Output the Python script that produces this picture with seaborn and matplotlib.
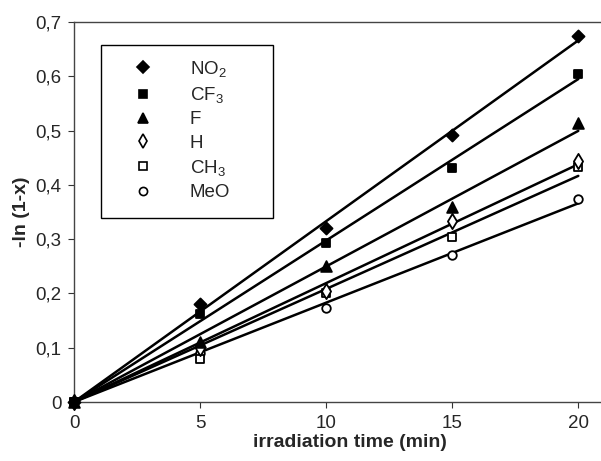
import numpy as np
import pandas as pd
import matplotlib
matplotlib.use("Agg")
import matplotlib.pyplot as plt
import seaborn as sns
from matplotlib.lines import Line2D
from matplotlib.patches import Rectangle

# ---- data ----
time_min = [0, 5, 10, 15, 20]
no2 = [0, 0.180, 0.320, 0.492, 0.675]
cf3 = [0, 0.163, 0.293, 0.431, 0.605]
f_sub = [0, 0.110, 0.250, 0.360, 0.514]
h_sub = [0, 0.100, 0.205, 0.333, 0.444]
ch3 = [0, 0.080, 0.200, 0.304, 0.433]
meo = [0, 0.090, 0.173, 0.271, 0.374]

series_names = ["NO2", "CF3", "F", "H", "CH3", "MeO"]
series_values = [no2, cf3, f_sub, h_sub, ch3, meo]
legend_labels = [r"NO$_\mathregular{2}$", r"CF$_\mathregular{3}$", "F", "H",
                 r"CH$_\mathregular{3}$", "MeO"]
y_ticks = [0, 0.1, 0.2, 0.3, 0.4, 0.5, 0.6, 0.7]
y_ticklabels = ["0", "0,1", "0,2", "0,3", "0,4", "0,5", "0,6", "0,7"]
x_ticks = [0, 5, 10, 15, 20]

# ---- style ----
sns.set_theme(style="white")
plt.rcParams["font.family"] = ["Liberation Sans", "DejaVu Sans"]
plt.rcParams["mathtext.fontset"] = "custom"
plt.rcParams["mathtext.rm"] = "Liberation Sans"
plt.rcParams["mathtext.it"] = "Liberation Sans:italic"
plt.rcParams["mathtext.bf"] = "Liberation Sans:bold"

marker_styles = {
    "NO2": dict(marker="D", facecolor="black", s=38),
    "CF3": dict(marker="s", facecolor="black", s=40),
    "F": dict(marker="^", facecolor="black", s=60),
    "H": dict(marker="d", facecolor="white", s=60),
    "CH3": dict(marker="s", facecolor="white", s=40),
    "MeO": dict(marker="o", facecolor="white", s=38),
}

df = pd.DataFrame({
    "t": np.tile(time_min, len(series_names)),
    "y": np.concatenate(series_values),
    "series": np.repeat(series_names, len(time_min)),
})

fig = plt.figure(figsize=(6.01, 4.61), dpi=100)
ax = fig.add_axes([74 / 601, 1 - 402 / 461, (601 - 74) / 601, (402 - 22) / 461])

# fit lines through the origin
fit_rows = []
for name, vals in zip(series_names, series_values):
    x = np.array(time_min, float)
    y = np.array(vals, float)
    slope = np.sum(x * y) / np.sum(x * x)
    for xx in (0.0, 20.0):
        fit_rows.append({"t": xx, "y": slope * xx, "series": name})
fit_df = pd.DataFrame(fit_rows)
for name in series_names:
    sub = fit_df[fit_df.series == name]
    sns.lineplot(data=sub, x="t", y="y", ax=ax, color="black", lw=1.8,
                 legend=False, zorder=2)

handles = []
draw_order = ["MeO", "CH3", "H", "NO2", "F", "CF3"]
zmap = {n: 3 + i * 0.1 for i, n in enumerate(draw_order)}
for name, lab in zip(series_names, legend_labels):
    st = marker_styles[name]
    sub = df[df.series == name]
    sns.scatterplot(data=sub, x="t", y="y", ax=ax, marker=st["marker"],
                    s=st["s"], color=st["facecolor"], edgecolor="black",
                    linewidth=1.3, legend=False, zorder=zmap[name],
                    clip_on=False)
    handles.append(Line2D([], [], ls="none", marker=st["marker"],
                          markersize=np.sqrt(st["s"]) * 0.95,
                          markerfacecolor=st["facecolor"],
                          markeredgecolor="black", markeredgewidth=1.2,
                          label=lab))

ax.set_xlim(0, 20.9)
ax.set_ylim(0, 0.7)
ax.set_xticks(x_ticks)
ax.set_xticklabels([str(v) for v in x_ticks])
ax.set_yticks(y_ticks)
ax.set_yticklabels(y_ticklabels)
ax.tick_params(axis="both", which="major", direction="out", length=4,
               width=0.8, color="#333333", labelsize=13.5, pad=5,
               bottom=True, left=True)
for side in ("left", "top", "bottom"):
    ax.spines[side].set_visible(True)
    ax.spines[side].set_color("#444444")
    ax.spines[side].set_linewidth(1.0)
ax.spines["right"].set_visible(False)

ax.set_xlabel("irradiation time (min)", fontsize=14, fontweight="bold")
ax.xaxis.set_label_coords((350 - 74) / 527, -0.083)
ax.set_ylabel("-ln (1-x)", fontsize=14, fontweight="bold", labelpad=4)

# legend box
ax.add_patch(Rectangle(((101 - 74) / 527, (402 - 218) / 380),
                       (273 - 101) / 527, (218 - 45) / 380,
                       transform=ax.transAxes, fill=False, edgecolor="black",
                       linewidth=1.0, zorder=4))
ax.legend(handles=handles, loc="upper left",
          bbox_to_anchor=((124 - 74) / 527, (402 - 59) / 380),
          frameon=False, fontsize=13.5, handlelength=2.0,
          handletextpad=1.5, borderpad=0, borderaxespad=0,
          labelspacing=0.33)

fig.savefig("out.png", dpi=100)
